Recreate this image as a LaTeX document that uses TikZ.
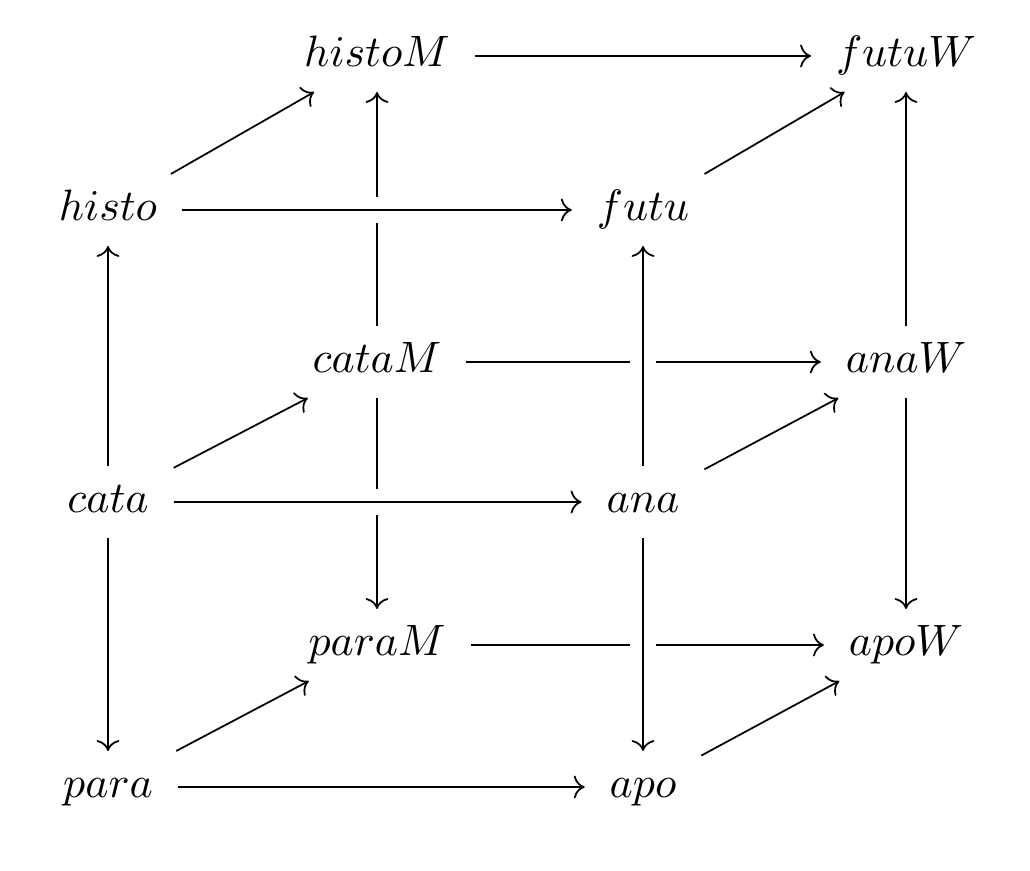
\documentclass[tikz,border=0pt]{standalone}
\usetikzlibrary{arrows.meta}
\begin{document}
\begin{tikzpicture}[
    >={Computer Modern Rightarrow},
    obj/.style={inner xsep=5.5pt, inner ysep=3.5pt, text height=7pt, text depth=2pt},
    over/.style={preaction={draw=white, line width=6pt, -}}
  ]
    \useasboundingbox (0,0) rectangle (8.24,6.96);

    % back face
    \node[obj] (histoM) at (3.016,6.512) {$histoM$};
    \node[obj] (futuW)  at (7.248,6.512) {$futuW$};
    \node[obj] (cataM)  at (3.016,4.064) {$cataM$};
    \node[obj] (anaW)   at (7.248,4.064) {$anaW$};
    \node[obj] (paraM)  at (3.016,1.8)   {$paraM$};
    \node[obj] (apoW)   at (7.248,1.8)   {$apoW$};

    % front face
    \node[obj] (histo) at (0.864,5.28)  {$histo$};
    \node[obj] (futu)  at (5.144,5.28)  {$futu$};
    \node[obj] (cata)  at (0.864,2.944) {$cata$};
    \node[obj] (ana)   at (5.144,2.944) {$ana$};
    \node[obj] (para)  at (0.864,0.664) {$para$};
    \node[obj] (apo)   at (5.144,0.664) {$apo$};

    \draw[->] (histoM) -- (futuW);
    \draw[->] (cataM) -- (histoM);
    \draw[->] (anaW) -- (futuW);
    \draw[->] (cataM) -- (anaW);
    \draw[->] (cataM) -- (paraM);
    \draw[->] (anaW) -- (apoW);
    \draw[->] (paraM) -- (apoW);

    \draw[->] (histo) -- (histoM);
    \draw[->] (futu) -- (futuW);
    \draw[->] (cata) -- (cataM);
    \draw[->] (ana) -- (anaW);
    \draw[->] (para) -- (paraM);
    \draw[->] (apo) -- (apoW);

    \draw[->, over] (histo) -- (futu);
    \draw[->, over] (cata) -- (ana);
    \draw[->] (para) -- (apo);
    \draw[->] (cata) -- (histo);
    \draw[->] (cata) -- (para);
    \draw[->, over] (ana) -- (futu);
    \draw[->, over] (ana) -- (apo);
\end{tikzpicture}
\end{document}
